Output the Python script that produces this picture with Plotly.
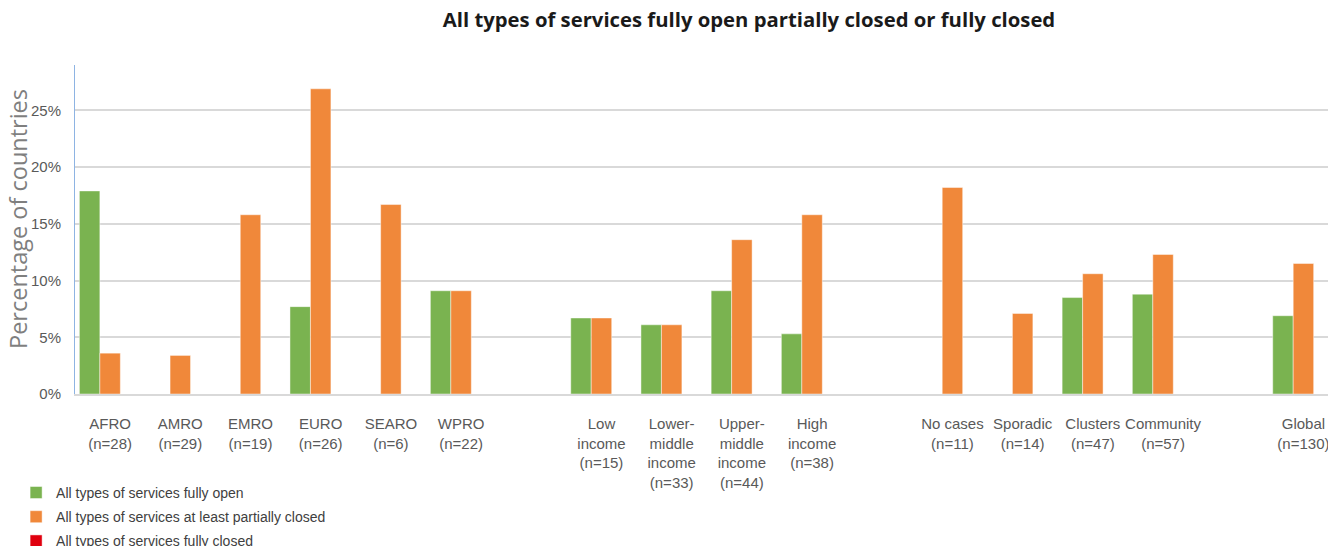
import plotly.graph_objects as go

# categories ("" = spacer slot between the groups)
labels = [
    "AFRO<br>(n=28)", "AMRO<br>(n=29)", "EMRO<br>(n=19)", "EURO<br>(n=26)",
    "SEARO<br>(n=6)", "WPRO<br>(n=22)", "",
    "Low<br>income<br>(n=15)", "Lower-<br>middle<br>income<br>(n=33)",
    "Upper-<br>middle<br>income<br>(n=44)", "High<br>income<br>(n=38)", "",
    "No cases<br>(n=11)", "Sporadic<br>(n=14)", "Clusters<br>(n=47)",
    "Community<br>(n=57)", "", "Global<br>(n=130)",
]

fully_open = [0.179, 0, 0, 0.077, 0, 0.091, None,
              0.067, 0.061, 0.091, 0.053, None,
              0, 0, 0.085, 0.088, None, 0.069]
partially_closed = [0.036, 0.034, 0.158, 0.269, 0.167, 0.091, None,
                    0.067, 0.061, 0.136, 0.158, None,
                    0.182, 0.071, 0.106, 0.123, None, 0.115]
fully_closed = [0, 0, 0, 0, 0, 0, None,
                0, 0, 0, 0, None,
                0, 0, 0, 0, None, 0]

series = [
    ("All types of services fully open", fully_open, "#7ab350"),
    ("All types of services at least partially closed", partially_closed, "#f0883a"),
    ("All types of services fully closed", fully_closed, "#e0000e"),
]

x = list(range(len(labels)))
sans = "Liberation Sans, Arial, sans-serif"

fig = go.Figure()
for name, vals, colour in series:
    fig.add_trace(go.Bar(
        x=x, y=vals, name=name, legendgroup=name,
        marker=dict(color=colour, line=dict(color="rgba(255,255,255,0.45)", width=1)),
    ))

fig.update_layout(
    barmode="group",
    bargap=0.125,
    bargroupgap=0,
    width=1328, height=546,
    # legend runs off the bottom edge like the original, so keep margins fixed
    margin=dict(l=75, r=0, t=65, b=152, autoexpand=False),
    paper_bgcolor="white",
    plot_bgcolor="white",
    title=dict(
        text="<b>All types of services fully open partially closed or fully closed</b>",
        font=dict(family="Open Sans, sans-serif", size=20.3, color="#1a1a1a"),
        x=0.564, xanchor="center", y=0.9634, yanchor="middle",
    ),
    legend=dict(
        orientation="v", x=-0.047, xanchor="left", y=-0.252, yanchor="top",
        font=dict(family=sans, size=14, color="#404040"),
        itemwidth=30, tracegroupgap=3, bgcolor="rgba(0,0,0,0)",
    ),
    showlegend=True,
)

fig.add_annotation(
    text="Percentage of countries", textangle=-90, showarrow=False,
    xref="paper", yref="paper", x=-0.0455, y=0.532,
    xanchor="center", yanchor="middle",
    font=dict(family="Open Sans, sans-serif", size=23.5, color="#7f7f7f"),
)

fig.update_xaxes(
    range=[-0.5, 17.35],
    tickvals=x, ticktext=labels,
    tickangle=0,
    tickfont=dict(family=sans, size=15, color="#595959"),
    showgrid=False, zeroline=False,
    showline=True, linecolor="#d9d9d9", linewidth=2,
    ticks="", ticklabelstandoff=15, ticklabeloverflow="allow",
    automargin=False,
)
fig.update_yaxes(
    range=[0, 0.29],
    tickvals=[0, 0.05, 0.10, 0.15, 0.20, 0.25],
    tickformat=".0%",
    tickfont=dict(family=sans, size=15, color="#595959"),
    ticklabelstandoff=10,
    showgrid=True, gridcolor="#d9d9d9", gridwidth=2,
    zeroline=False,
    showline=True, linecolor="#8eb4e3", linewidth=1,
    automargin=False,
)

# drop the default body margin so the figure fills the window exactly
fig.write_html("out.html", config={"displayModeBar": False},
               post_script="document.body.style.margin = '0';")
